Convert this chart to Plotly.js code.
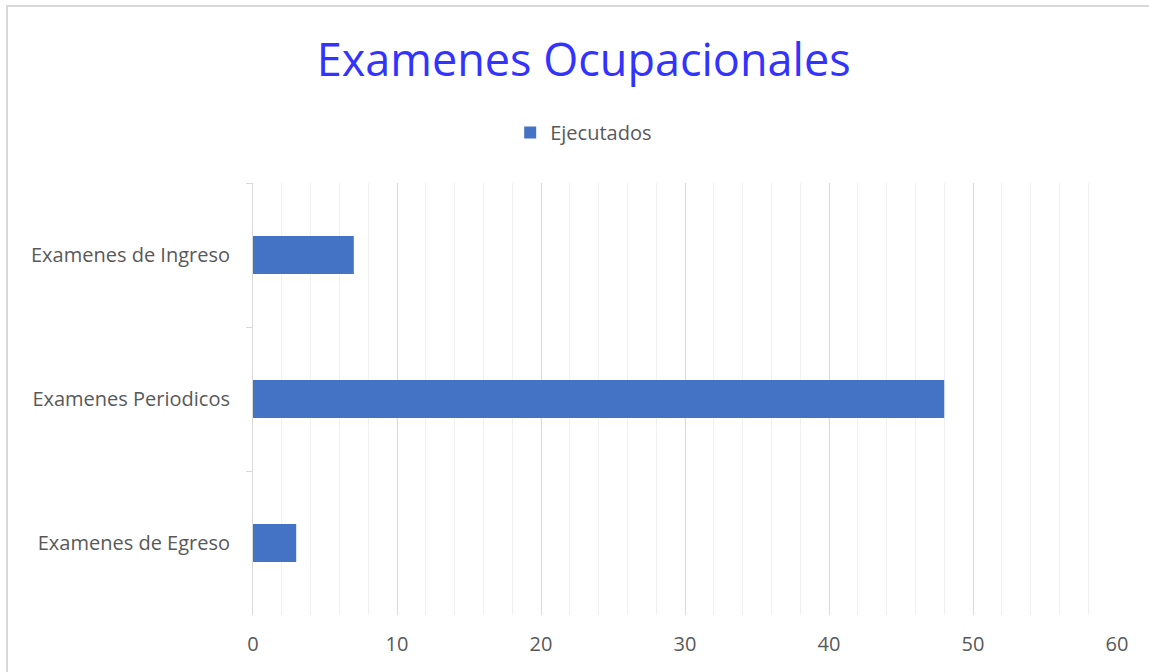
<!DOCTYPE html>
<html>
<head>
<meta charset="utf-8">
<script src="https://cdn.plot.ly/plotly-3.0.1.min.js"></script>
<style>
  html, body { margin: 0; padding: 0; background: #fff; overflow: hidden; }
  #chart { position: absolute; left: 0; top: 0; width: 1149px; height: 672px; }
  #frame { position: absolute; left: 6px; top: 5px; width: 1160px; height: 700px; border: 2px solid #d9d9d9; box-sizing: border-box; pointer-events: none; }
</style>
</head>
<body>
<div id="chart"></div>
<div id="frame"></div>
<script>
const categories = ['Examenes de Ingreso', 'Examenes Periodicos', 'Examenes de Egreso'];
const ejecutados = [7, 48, 3];
const seriesName = 'Ejecutados';
const chartTitle = 'Examenes Ocupacionales';

const FONT = 'Open Sans, Lato, sans-serif';

const data = [{
  type: 'bar',
  orientation: 'h',
  name: seriesName,
  y: categories,
  x: ejecutados,
  marker: { color: '#4472C4' },
  hoverinfo: 'x+y'
}];

const layout = {
  width: 1149,
  height: 672,
  margin: { l: 253, r: 32, t: 183, b: 57 },
  paper_bgcolor: '#ffffff',
  plot_bgcolor: '#ffffff',
  font: { family: FONT, color: '#595959', size: 18 },
  title: {
    text: chartTitle,
    font: { family: FONT, size: 45, color: '#3333FF' },
    x: 0.508, xref: 'container', xanchor: 'center',
    y: 0.91, yref: 'container', yanchor: 'middle'
  },
  showlegend: true,
  legend: {
    orientation: 'h',
    x: 0.508, xref: 'container', xanchor: 'center',
    y: 0.803, yref: 'container', yanchor: 'middle',
    font: { family: FONT, size: 20, color: '#595959' },
    itemclick: false
  },
  bargap: 0.736,
  xaxis: {
    range: [0, 60],
    dtick: 10,
    tick0: 0,
    showgrid: true,
    gridcolor: '#d9d9d9',
    gridwidth: 1,
    zeroline: false,
    showline: false,
    ticks: '',
    tickfont: { family: FONT, size: 20, color: '#595959' },
    ticklabelstandoff: 15,
    minor: { dtick: 2, tick0: 0, showgrid: true, gridcolor: '#f0f0f0', gridwidth: 1 },
    fixedrange: true
  },
  yaxis: {
    type: 'category',
    autorange: 'reversed',
    showgrid: false,
    showline: true,
    linecolor: '#d9d9d9',
    linewidth: 1,
    ticks: 'outside',
    tickson: 'boundaries',
    ticklen: 6,
    tickcolor: '#d9d9d9',
    tickfont: { family: FONT, size: 20, color: '#595959' },
    ticklabelstandoff: 18,
    fixedrange: true
  }
};

Plotly.newPlot('chart', data, layout, { displayModeBar: false });
</script>
</body>
</html>
